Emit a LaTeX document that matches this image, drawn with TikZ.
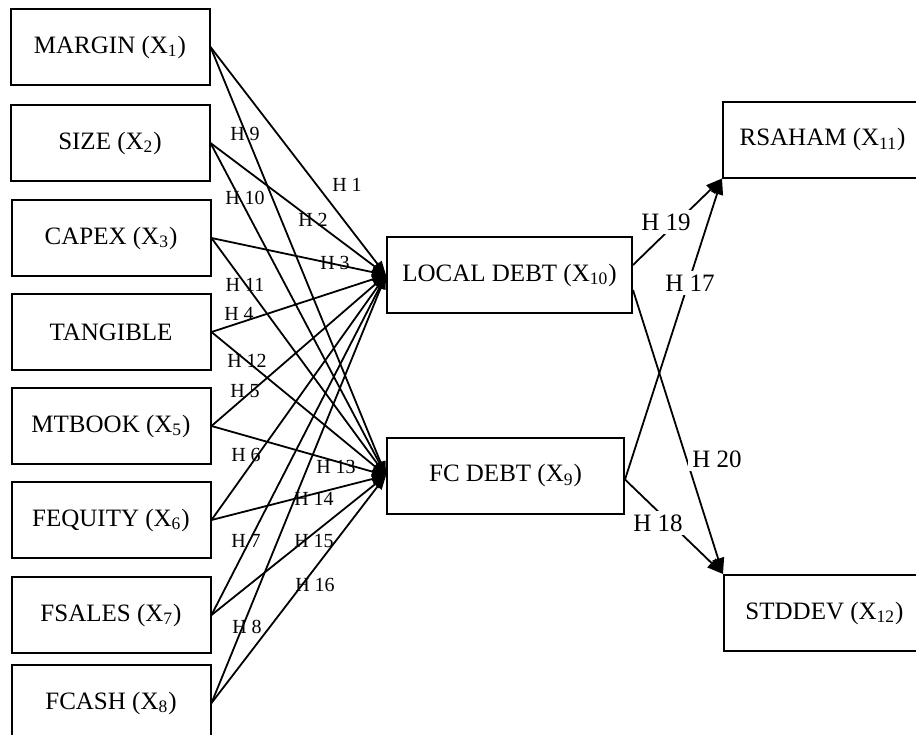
\documentclass[tikz,border=0pt]{standalone}
\usepackage{fontspec}
\setmainfont{Liberation Serif}
\usetikzlibrary{arrows.meta}

\begin{document}
\begin{tikzpicture}[x=0.5pt,y=-0.5pt,
    var/.style={draw, line width=1pt, minimum width=99.5pt, minimum height=38pt, inner sep=0pt, font=\fontsize{12.5}{14}\selectfont},
    hyp/.style={font=\fontsize{10}{12}\selectfont, inner sep=1pt},
    hypr/.style={font=\fontsize{12.5}{14}\selectfont, fill=white, inner sep=2pt},
    hyparrow/.style={line width=0.9pt, -{Triangle[length=7pt,width=5pt]}},
    retarrow/.style={line width=0.9pt, -{Triangle[length=8pt,width=6pt]}}]
    \useasboundingbox (0,0) rectangle (916,734);
    \clip (0,0) rectangle (916,734);

    % independent variables
    \node[var] (margin) at (110,47) {MARGIN (X\textsubscript{1})};
    \node[var] (size) at (110,143) {SIZE (X\textsubscript{2})};
    \node[var] (capex) at (111,238) {CAPEX (X\textsubscript{3})};
    \node[var] (tangible) at (111,332) {TANGIBLE};
    \node[var] (mtbook) at (111,426) {MTBOOK (X\textsubscript{5})};
    \node[var] (fequity) at (111,520) {FEQUITY (X\textsubscript{6})};
    \node[var] (fsales) at (111,615) {FSALES (X\textsubscript{7})};
    \node[var] (fcash) at (111,703) {FCASH (X\textsubscript{8})};

    % debt
    \node[var, minimum width=122.5pt] (local) at (509.5,275) {LOCAL DEBT (X\textsubscript{10})};
    \node[var, minimum width=118.5pt] (fc) at (505.5,475.5) {FC DEBT (X\textsubscript{9})};

    % returns
    \node[var] (rsaham) at (822.5,139.5) {RSAHAM (X\textsubscript{11})};
    \node[var, minimum width=100.5pt] (stddev) at (824.5,613) {STDDEV (X\textsubscript{12})};

    \draw[hyparrow] (margin.east) -- (local.west);
    \draw[hyparrow] (size.east) -- (local.west);
    \draw[hyparrow] (capex.east) -- (local.west);
    \draw[hyparrow] (tangible.east) -- (local.west);
    \draw[hyparrow] (mtbook.east) -- (local.west);
    \draw[hyparrow] (fequity.east) -- (local.west);
    \draw[hyparrow] (fsales.east) -- (local.west);
    \draw[hyparrow] (fcash.east) -- (local.west);

    \draw[hyparrow] (margin.east) -- (fc.west);
    \draw[hyparrow] (size.east) -- (fc.west);
    \draw[hyparrow] (capex.east) -- (fc.west);
    \draw[hyparrow] (tangible.east) -- (fc.west);
    \draw[hyparrow] (mtbook.east) -- (fc.west);
    \draw[hyparrow] (fequity.east) -- (fc.west);
    \draw[hyparrow] (fsales.east) -- (fc.west);
    \draw[hyparrow] (fcash.east) -- (fc.west);

    \node[hyp] (h1) at (347,185) {H 1};
    \node[hyp] (h2) at (313,220) {H 2};
    \node[hyp] (h3) at (335,263) {H 3};
    \node[hyp] (h4) at (239,314) {H 4};
    \node[hyp] (h5) at (245,391) {H 5};
    \node[hyp] (h6) at (246,455) {H 6};
    \node[hyp] (h7) at (246,541) {H 7};
    \node[hyp] (h8) at (247,627) {H 8};
    \node[hyp] (h9) at (245,134) {H 9};
    \node[hyp] (h10) at (245,198) {H 10};
    \node[hyp] (h11) at (245,285) {H 11};
    \node[hyp] (h12) at (247,361) {H 12};
    \node[hyp] (h13) at (336,467) {H 13};
    \node[hyp] (h14) at (314,499) {H 14};
    \node[hyp] (h15) at (314,541) {H 15};
    \node[hyp] (h16) at (315,585) {H 16};

    \draw[retarrow] ([yshift=5pt]local.east) -- (rsaham.south west);
    \draw[retarrow] ([yshift=-7.5pt]local.east) -- (stddev.north west);
    \draw[retarrow] ([yshift=-2pt]fc.east) -- (rsaham.south west);
    \draw[retarrow] ([yshift=-2pt]fc.east) -- (stddev.north west);

    \node[hypr] (h19) at (666,222) {H 19};
    \node[hypr] (h17) at (690,283) {H 17};
    \node[hypr] (h20) at (717,459) {H 20};
    \node[hypr] (h18) at (658,523) {H 18};
\end{tikzpicture}
\end{document}
